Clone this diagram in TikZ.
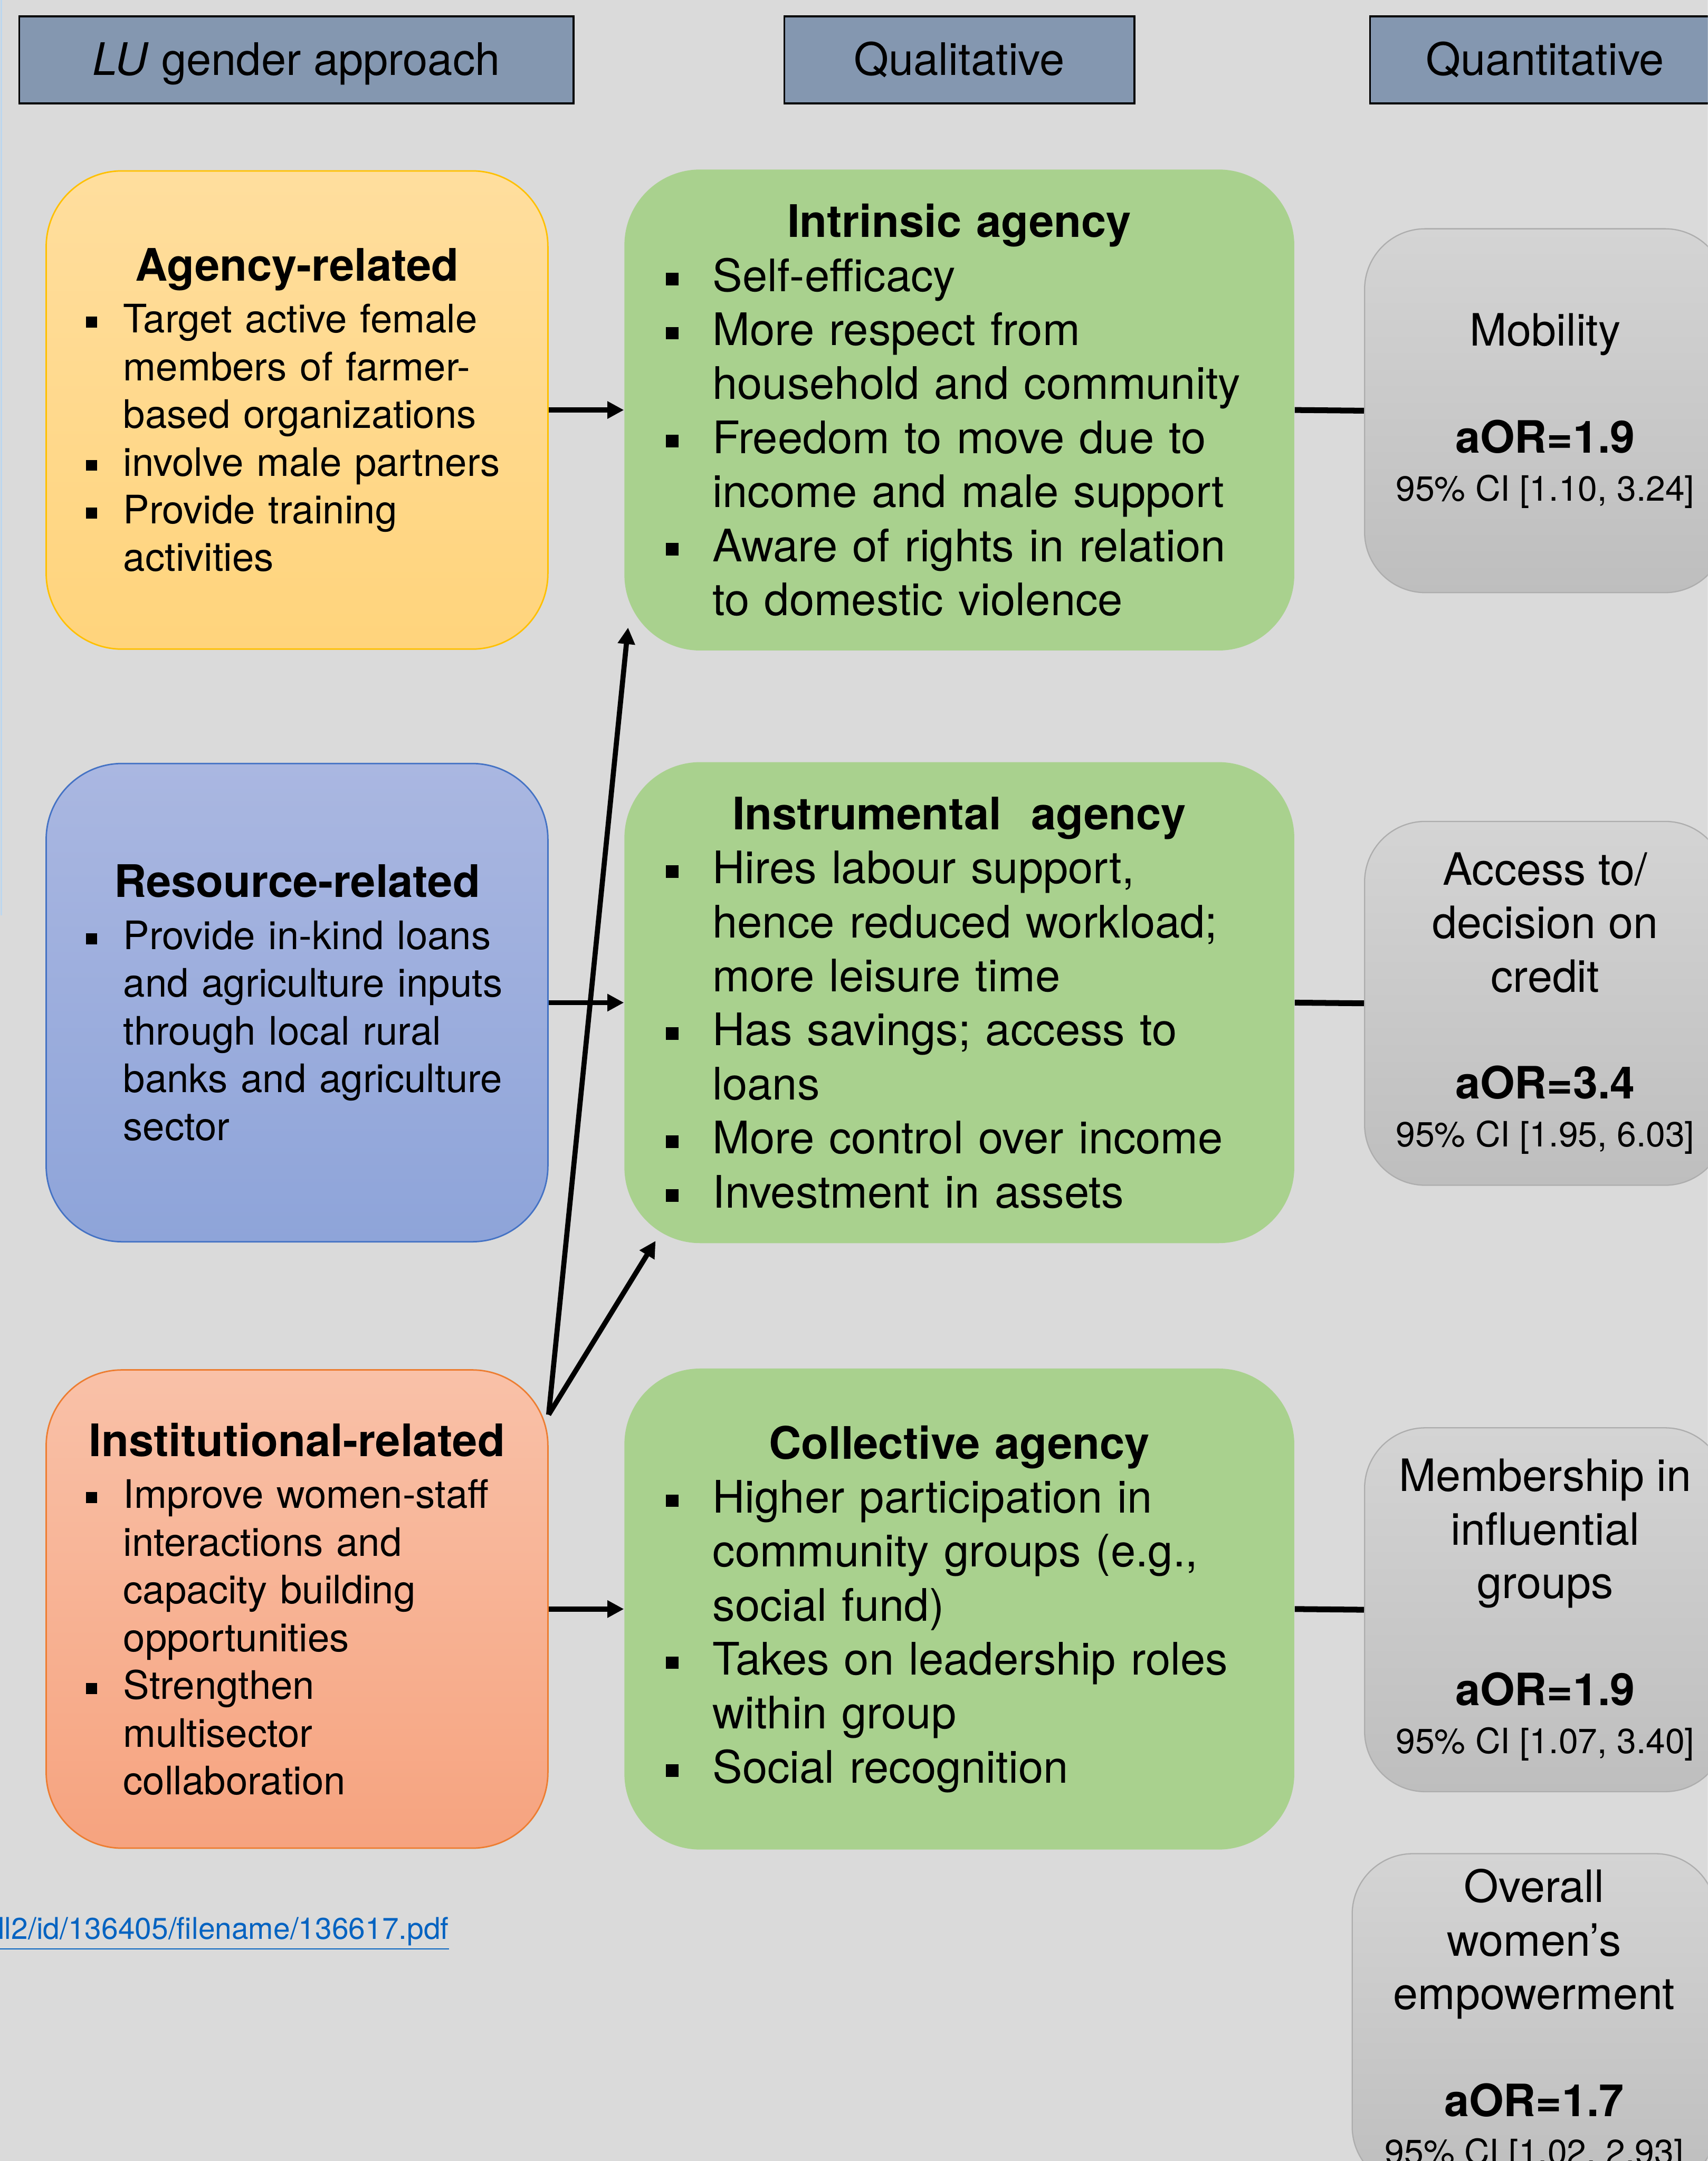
\documentclass[tikz,border=0pt]{standalone}
\usepackage{fontspec}
\setmainfont{TeX Gyre Heros}
\usepackage{enumitem}
\usetikzlibrary{arrows.meta,calc}
\definecolor{bggray}{HTML}{DADADA}
\definecolor{hdrblue}{HTML}{8497B0}
\definecolor{ylwtop}{HTML}{FFDE9E}
\definecolor{ylwbot}{HTML}{FFD47C}
\definecolor{ylwline}{HTML}{FFC000}
\definecolor{blutop}{HTML}{AAB7E1}
\definecolor{blubot}{HTML}{8EA4D9}
\definecolor{bluline}{HTML}{4472C4}
\definecolor{orgtop}{HTML}{F9C1A8}
\definecolor{orgbot}{HTML}{F6A37F}
\definecolor{orgline}{HTML}{ED7D31}
\definecolor{agreen}{HTML}{A9D18E}
\definecolor{greytop}{HTML}{D4D4D4}
\definecolor{greybot}{HTML}{BEBEBE}
\definecolor{greyline}{HTML}{ADADAD}
\definecolor{linkblue}{HTML}{0563C1}
\definecolor{edgeblue}{HTML}{BDD7EE}
\newlist{pts}{itemize}{1}
\setlist[pts]{label=\rule[0.25ex]{0.28em}{0.28em}, align=left, labelindent=0pt, labelsep=0pt,
  topsep=0pt, partopsep=0pt, itemsep=0pt, parsep=0pt, rightmargin=-1cm, before=\raggedright}
\newcommand{\ci}[1]{{\fontsize{14.4}{19.8}\selectfont 95\% CI [#1]\par}}
\begin{document}
\begin{tikzpicture}
\tikzstyle{every node}+=[inner sep=0pt]
\tikzstyle{hdr}=[draw=black, line width=0.8pt, fill=hdrblue, minimum height=1.26cm, text height=13.5pt, text depth=1pt, font=\fontsize{18.5}{22}\selectfont]
\tikzstyle{leftbox}=[rounded corners=1.1cm, line width=0.6pt, minimum height=6.94cm, text width=6.12cm, inner xsep=0.58cm, font=\fontsize{16.2}{19.7}\selectfont]
\tikzstyle{greenbox}=[rounded corners=1.1cm, fill=agreen, minimum height=6.98cm, text width=8.52cm, inner xsep=0.6cm, font=\fontsize{18.5}{22.3}\selectfont]
\tikzstyle{greybox}=[rounded corners=0.88cm, draw=greyline, line width=0.5pt, top color=greytop, bottom color=greybot, minimum width=5.24cm, minimum height=5.28cm, text width=5.0cm, align=flush center, font=\fontsize{18.4}{22.1}\selectfont]
\tikzstyle{arr}=[line width=2.1pt, -{Triangle[length=0.24cm,width=0.24cm]}]
\tikzstyle{lnk}=[line width=2.4pt]
\useasboundingbox (0,0) rectangle (24.78,-31.36);
\clip (0,0) rectangle (24.78,-31.36);
\fill[bggray] (0,0) rectangle (24.78,-31.36);
\draw[edgeblue, line width=0.6pt] (0.02,0) -- (0.02,-13.28);
% headers
\node[hdr, minimum width=8.04cm] (hlu) at (4.30,-0.87) {\textit{LU} gender approach};
\node[hdr, minimum width=5.08cm] (hql) at (13.92,-0.87) {Qualitative};
\node[hdr, minimum width=5.08cm] (hqn) at (22.42,-0.87) {Quantitative};
% left column
\node[leftbox, draw=ylwline, top color=ylwtop, bottom color=ylwbot] (agency) at (4.31,-5.95) {%
{\centering\bfseries\fontsize{18.5}{22}\selectfont Agency-related\par}\vspace{1.8pt}
\begin{pts}[leftmargin=0.54cm, labelwidth=0.54cm]
\item Target active female\\ members of farmer-\\ based organizations
\item involve male partners
\item Provide training\\ activities
\end{pts}};
\node[leftbox, draw=bluline, top color=blutop, bottom color=blubot] (res) at (4.31,-14.55) {%
{\centering\bfseries\fontsize{18.5}{22}\selectfont Resource-related\par}\vspace{1.8pt}
\begin{pts}[leftmargin=0.54cm, labelwidth=0.54cm]
\item Provide in-kind loans\\ and agriculture inputs\\ through local rural\\ banks and agriculture\\ sector
\end{pts}};
\node[leftbox, draw=orgline, top color=orgtop, bottom color=orgbot] (inst) at (4.31,-23.35) {%
{\centering\bfseries\fontsize{18.5}{22}\selectfont Institutional-related\par}\vspace{1.8pt}
\begin{pts}[leftmargin=0.54cm, labelwidth=0.54cm]
\item Improve women-staff\\ interactions and\\ capacity building\\ opportunities
\item Strengthen\\ multisector\\ collaboration
\end{pts}};
% middle column
\node[greenbox] (intr) at (13.92,-5.95) {%
{\centering\bfseries Intrinsic agency\par}
\begin{pts}[leftmargin=0.68cm, labelwidth=0.68cm]
\item Self-efficacy
\item More respect from\\ household and community
\item Freedom to move due to\\ income and male support
\item Aware of rights in relation\\ to domestic violence
\end{pts}};
\node[greenbox] (instr) at (13.92,-14.55) {%
{\centering\bfseries Instrumental\ \ agency\par}
\begin{pts}[leftmargin=0.68cm, labelwidth=0.68cm]
\item Hires labour support,\\ hence reduced workload;\\ more leisure time
\item Has savings; access to\\ loans
\item More control over income
\item Investment in assets
\end{pts}};
\node[greenbox] (coll) at (13.92,-23.35) {%
{\centering\bfseries Collective agency\par}
\begin{pts}[leftmargin=0.68cm, labelwidth=0.68cm]
\item Higher participation in\\ community groups (e.g.,\\ social fund)
\item Takes on leadership roles\\ within group
\item Social recognition
\end{pts}};
% right column
\node[greybox] (mob) at (22.42,-5.96) {Mobility\par\vspace{22.1pt}\textbf{aOR=1.9}\par\ci{1.10, 3.24}};
\node[greybox] (acc) at (22.42,-14.56) {Access to/\\decision on\\credit\par\vspace{22.1pt}\textbf{aOR=3.4}\par\ci{1.95, 6.03}};
\node[greybox] (memb) at (22.42,-23.36) {Membership in\\influential\\groups\par\vspace{22.1pt}\textbf{aOR=1.9}\par\ci{1.07, 3.40}};
\node[greybox, minimum width=5.28cm, minimum height=4.84cm] (overall) at (22.26,-29.32) {Overall\\women’s\\empowerment\par\vspace{22.1pt}\textbf{aOR=1.7}\par\ci{1.02, 2.93}};
\node[anchor=east, text=linkblue, font=\fontsize{12.4}{14}\selectfont] (src) at (6.52,-28.06) {\underline{ll2/id/136405/filename/136617.pdf}};
% connectors
\draw[arr] (agency.east) -- (intr.west);
\draw[arr] (res.east) -- (instr.west);
\draw[arr] (inst.east) -- (coll.west);
\coordinate (fork) at ($(inst.north east)+(0,-0.66)$);
\draw[arr] (fork) -- ($(intr.south west)+(0.06,0.34)$);
\draw[arr] (fork) -- ($(instr.south west)+(0.46,0.04)$);
\draw[lnk] (intr.east) -- (mob.west);
\draw[lnk] (instr.east) -- (acc.west);
\draw[lnk] (coll.east) -- (memb.west);
\end{tikzpicture}
\end{document}
